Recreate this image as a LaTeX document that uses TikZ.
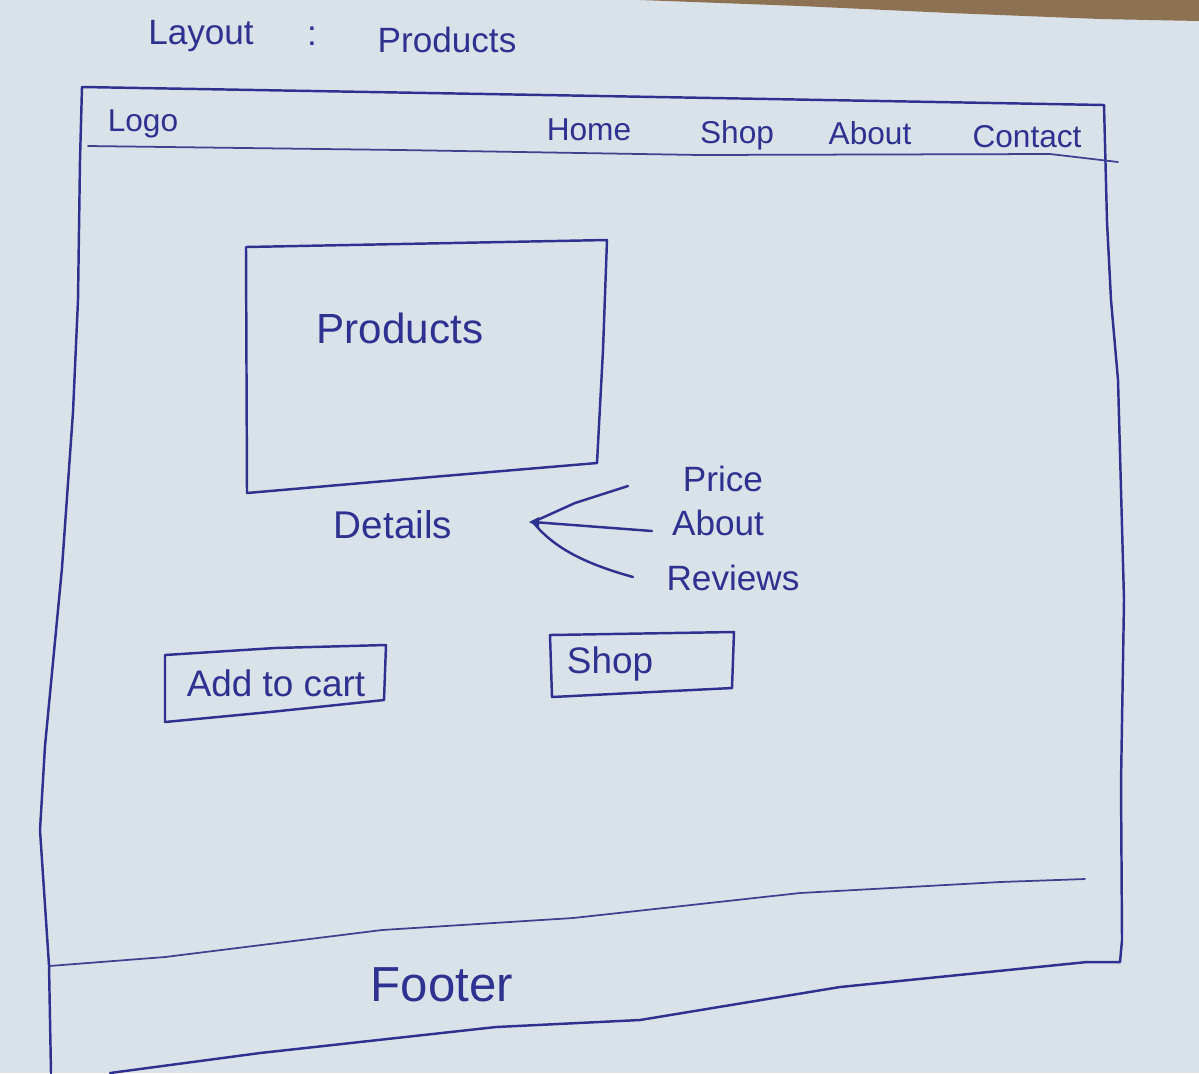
\documentclass[tikz,border=0pt]{standalone}
\usepackage{fontspec}
\setmainfont{Liberation Sans}
\definecolor{paper}{HTML}{DAE2E9}
\definecolor{ink}{HTML}{2E3190}
\definecolor{wood}{HTML}{8C7252}
\begin{document}
\begin{tikzpicture}[x=0.02cm,y=-0.02cm,
  pen/.style={draw=ink,line width=1.4pt,line join=round,line cap=round},
  thinpen/.style={draw=ink!80!gray,line width=1.0pt,line cap=round},
  hand/.style={text=ink,inner sep=0pt,font=\fontsize{#1}{#1}\selectfont},
  hand/.default=20]
% page
\fill[paper] (0,0) rectangle (1199,1073);
\useasboundingbox (0,0) rectangle (1199,1073);
\fill[wood] (640,0) -- (1199,0) -- (1199,21) -- (1100,19) -- (950,13) -- (800,6) -- cycle;
% title
\node[hand=20] (tlayout) at (201,36) {Layout};
\node[hand=20] (tcolon) at (312,36) {:};
\node[hand=20] (tprod) at (447,40) {Products};
% outer frame
\draw[pen] (82,87) -- (600,96) -- (1104,105)
  -- (1107,222) -- (1111,300) -- (1118,380) -- (1124,600) -- (1121,783) -- (1122,940) -- (1120,962) -- (1087,962);
\draw[pen] (82,87) -- (80,160) -- (78,300) -- (73,412) -- (62,568) -- (45,746) -- (40,830) -- (49,965) -- (51,1073);
% header line
\draw[thinpen] (88,146) -- (400,150) -- (700,155) -- (1050,154) -- (1118,162);
% nav
\node[hand=18] (logo) at (143,124) {Logo};
\node[hand=18] (home) at (589,130) {Home};
\node[hand=18] (shopnav) at (737,135) {Shop};
\node[hand=18] (about) at (870,133) {About};
\node[hand=18] (contact) at (1027,137) {Contact};
% products box
\draw[pen] (246,247) -- (607,240) -- (603,350) -- (597,463) -- (420,478) -- (247,493) -- cycle;
\node[hand=24] (products) at (400,328) {Products};
\node[hand=22] (details) at (393,525) {Details};
% detail connectors
\coordinate (tip) at (533,522);
\coordinate (pend) at (628,486);
\coordinate (aend) at (652,531);
\coordinate (rend) at (633,577);
\draw[pen] (tip) -- (575,503) -- (pend);
\draw[pen] (tip) -- (aend);
\draw[pen] (tip) .. controls (555,550) and (590,565) .. (rend);
\fill[ink] (tip) ++(-4,0) -- ++(10,-5) -- ++(0,10) -- cycle;
\node[hand=20] (price) at (723,479) {Price};
\node[hand=20] (dabout) at (718,523) {About};
\node[hand=20] (reviews) at (733,578) {Reviews};
% buttons
\draw[pen] (165,655) -- (275,648) -- (386,645) -- (384,700) -- (270,712) -- (165,722) -- cycle;
\node[hand=21] (addcart) at (276,683) {Add to cart};
\draw[pen] (550,635) -- (734,632) -- (732,688) -- (552,697) -- cycle;
\node[hand=21] (shopbtn) at (610,664) {Shop};
% footer
\draw[thinpen] (49,966) -- (165,957) -- (382,930) -- (573,918) -- (800,893) -- (1000,882) -- (1085,879);
\draw[pen] (1087,962) -- (840,987) -- (640,1020) -- (496,1027) -- (260,1053) -- (110,1073);
\node[hand=28] (footer) at (442,985) {Footer};
\end{tikzpicture}
\end{document}
